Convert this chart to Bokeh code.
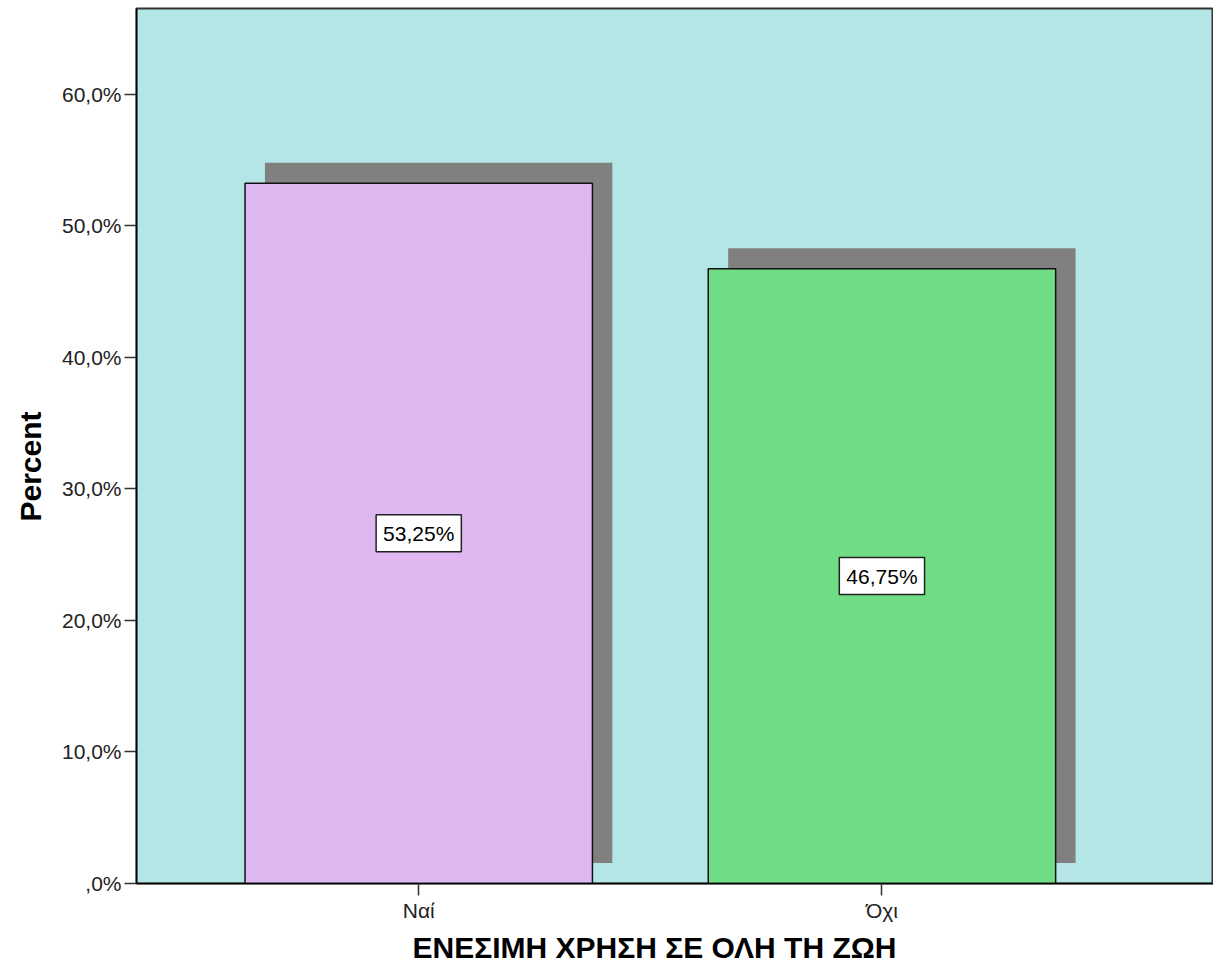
from bokeh.plotting import figure
from bokeh.models import Range1d, Label, FixedTicker, Title
from bokeh.embed import file_html
from bokeh.resources import INLINE

categories = ["Ναί", "Όχι"]
percents = [53.25, 46.75]
bar_colors = ["#DFB8F2", "#70DD86"]
y_ticks = [0, 10, 20, 30, 40, 50, 60]
y_tick_labels = [",0%", "10,0%", "20,0%", "30,0%", "40,0%", "50,0%", "60,0%"]
x_title = "ΕΝΕΣΙΜΗ ΧΡΗΣΗ ΣΕ ΟΛΗ ΤΗ ΖΩΗ"
y_title = "Percent"

FONT = "Liberation Sans"
xs = [i + 1 for i in range(len(categories))]
bw = 0.75
dx = 0.043
dy = 1.56

p = figure(output_backend="svg", toolbar_location=None,
           width=1213, height=967,
           min_border_left=133, min_border_top=8, min_border_right=0, min_border_bottom=83,
           x_range=Range1d(0.3907, 2.7158), y_range=Range1d(0, 66.53))

p.background_fill_color = "#B4E6E7"
p.border_fill_color = "white"
p.outline_line_color = "#333333"
p.outline_line_width = 2
p.grid.visible = False

# shadows
p.quad(left=[x - bw / 2 + dx for x in xs], right=[x + bw / 2 + dx for x in xs],
       bottom=[dy for _ in xs], top=[v + dy for v in percents],
       fill_color="#808080", line_color=None)
# bars
p.quad(left=[x - bw / 2 for x in xs], right=[x + bw / 2 for x in xs],
       bottom=[0 for _ in xs], top=percents,
       fill_color=bar_colors, line_color="#111111", line_width=1.5)

for x, v in zip(xs, percents):
    txt = f"{v:.2f}%".replace(".", ",")
    p.add_layout(Label(x=x, y=v / 2, text=txt, text_align="center", text_baseline="middle",
                       text_font=FONT, text_font_size="21px", text_color="black",
                       background_fill_color="white", border_line_color="#222222",
                       border_line_width=1.5, padding=7))

# axes
p.yaxis.ticker = FixedTicker(ticks=y_ticks)
p.yaxis.major_label_overrides = {t: l for t, l in zip(y_ticks, y_tick_labels)}
p.xaxis.ticker = FixedTicker(ticks=xs)
p.xaxis.major_label_overrides = {x: c for x, c in zip(xs, categories)}

for ax in (p.xaxis[0], p.yaxis[0]):
    ax.axis_line_color = "black"
    ax.axis_line_width = 1.5
    ax.major_tick_line_color = "#333333"
    ax.major_tick_line_width = 1.5
    ax.major_tick_out = 12
    ax.major_tick_in = 0
    ax.minor_tick_line_color = None
    ax.major_label_text_font = FONT
    ax.major_label_text_font_size = "21px"
    ax.major_label_text_color = "#222222"

p.yaxis.major_label_standoff = 3
p.xaxis.major_label_standoff = 3

p.add_layout(Title(text=y_title, align="left", offset=362, standoff=23,
                   text_font=FONT, text_font_size="30px", text_font_style="bold",
                   text_color="black"), "left")
p.add_layout(Title(text=x_title, align="left", offset=276, standoff=8,
                   text_font=FONT, text_font_size="30px", text_font_style="bold",
                   text_color="black"), "below")

open("out.html", "w").write(file_html(p, INLINE))
